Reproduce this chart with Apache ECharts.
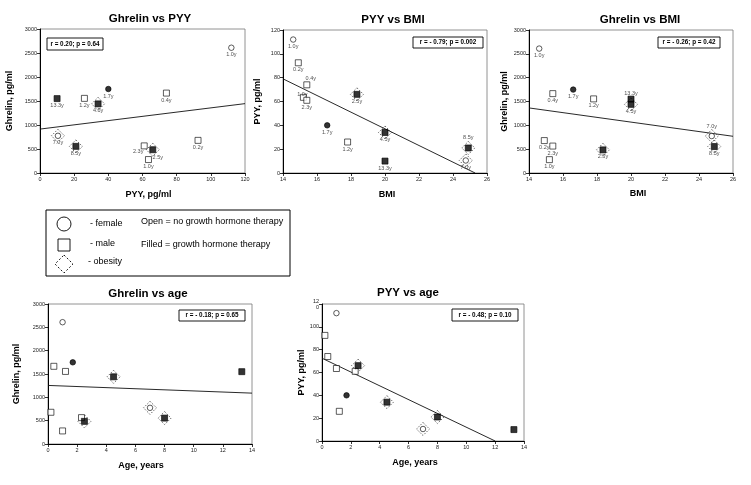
<!DOCTYPE html>
<html><head><meta charset="utf-8">
<script src="https://cdn.jsdelivr.net/npm/echarts@6/dist/echarts.min.js"></script>
<style>html,body{margin:0;padding:0;background:#fff}#c{width:751px;height:485px}</style>
</head><body><div id="c"></div>
<script>
// ---- data (one entry per subject) ----
const ageLabels = ['1.0y','0.2y','0.4y','1.0y','2.3y','1.7y','1.2y','2.5y','4.5y','13.3y','8.5y','7.0y'];
const ageYears  = [1.0, 0.2, 0.4, 1.0, 2.3, 1.7, 1.2, 2.5, 4.5, 13.3, 8.0, 7.0];
const sex       = ['F','M','M','M','M','F','M','M','M','M','M','F'];
const ghTherapy = [0,0,0,0,0,1,0,1,1,1,1,0];
const obese     = [0,0,0,0,0,0,0,1,1,0,1,1];
const pyy       = [112, 92.5, 74, 63.5, 61, 40, 26, 66, 34, 10, 21, 10.5];
const ghrelin   = [2610, 680, 1665, 280, 565, 1750, 1555, 485, 1440, 1550, 555, 775];
const bmi       = [14.6, 14.9, 15.4, 15.2, 15.4, 16.6, 17.8, 18.35, 20.0, 20.0, 24.9, 24.75];

// regression lines (end points)
const fitGhrelinPyy = [[0, 915], [120, 1445]];
const fitPyyBmi     = [[14, 79], [25.3, 0]];
const fitGhrelinBmi = [[14, 1365], [26, 770]];
const fitGhrelinAge = [[0, 1255], [14, 1090]];
const fitPyyAge     = [[0, 72.5], [12, 0]];

const panelTitles = ['Ghrelin vs PYY', 'PYY vs BMI', 'Ghrelin vs BMI', 'Ghrelin vs age', 'PYY vs age'];
const statTexts   = ['r = 0.20; p = 0.64', 'r = - 0.79; p = 0.002', 'r = - 0.26; p = 0.42', 'r = - 0.18; p = 0.65', 'r = - 0.48; p = 0.10'];
const xNames = ['PYY, pg/ml', 'BMI', 'BMI', 'Age, years', 'Age, years'];
const yNames = ['Ghrelin, pg/ml', 'PYY, pg/ml', 'Ghrelin, pg/ml', 'Ghrelin, pg/ml', 'PYY, pg/ml'];
const legendShapes = ['- female', '- male', '- obesity'];
const legendFill = ['Open = no growth hormone therapy', 'Filled = growth hormone therapy'];

// ---- layout ----
const FONT = '"Liberation Sans", Arial, sans-serif';
const panels = [
  {x: pyy, y: ghrelin, fit: fitGhrelinPyy, labels: true, grid: {left: 40, top: 29, width: 205, height: 144},
   xr: [0, 120, 20], yr: [0, 3000, 500], xGap: 17.5, yGap: 25.5, xPad: 12,
   place: {4: {offset: [-6, -1]}, 7: {offset: [5, 1]}}},
  {x: bmi, y: pyy, fit: fitPyyBmi, labels: true, grid: {left: 283, top: 30, width: 204, height: 143},
   xr: [14, 26, 2], yr: [0, 120, 20], xGap: 17.5, yGap: 20.5, xPad: 4,
   place: {2: {position: 'top', distance: 0, offset: [4, 0]}, 3: {position: 'top', distance: 0, offset: [-1, 3]}, 10: {position: 'top', distance: 4}}},
  {x: bmi, y: ghrelin, fit: fitGhrelinBmi, labels: true, grid: {left: 529, top: 30, width: 204, height: 143},
   xr: [14, 26, 2], yr: [0, 3000, 500], xGap: 16, yGap: 20, xPad: 14,
   place: {9: {position: 'top', distance: 0}, 11: {position: 'top', distance: 4}}},
  {x: ageYears, y: ghrelin, fit: fitGhrelinAge, labels: false, grid: {left: 48, top: 304, width: 204, height: 140},
   xr: [0, 14, 2], yr: [0, 3000, 500], xGap: 17.5, yGap: 26.5, xPad: -18},
  {x: ageYears, y: pyy, fit: fitPyyAge, labels: false, grid: {left: 322, top: 304, width: 202, height: 137},
   xr: [0, 14, 2], yr: [0, 120, 20], xGap: 17.5, yGap: 15.5, xPad: -16, wrapTop: true}
];
const statBoxes = [[47, 38, 56, 12], [413, 37, 70, 11], [658, 37, 62, 11], [179, 310, 66, 11], [452, 309, 66, 12]];
const titlePos = [[150, 19], [393, 20], [640, 20], [148, 294], [408, 293]];

function axisBase(r) {
  return {
    min: r[0], max: r[1], interval: r[2], nameLocation: 'middle',
    axisLine: {show: true, onZero: false, lineStyle: {color: '#000', width: 1}},
    axisTick: {show: true, length: 3, inside: false, lineStyle: {color: '#000', width: 0.8}},
    axisLabel: {fontSize: 5.5, color: '#222', fontFamily: FONT, margin: 3, formatter: v => String(v)},
    splitLine: {show: false},
    nameTextStyle: {fontSize: 9, fontWeight: 'bold', fontFamily: FONT, color: '#000'}
  };
}

const grids = [], xAxes = [], yAxes = [], series = [];
panels.forEach((p, k) => {
  grids.push(Object.assign({show: true, borderColor: '#777', borderWidth: 0.8, backgroundColor: 'transparent'}, p.grid));
  const xa = axisBase(p.xr);
  Object.assign(xa, {type: 'value', gridIndex: k, name: xNames[k], nameGap: p.xGap});
  xa.nameTextStyle = Object.assign({}, xa.nameTextStyle, {padding: p.xPad >= 0 ? [0, 0, 0, p.xPad] : [0, -p.xPad, 0, 0]});
  xAxes.push(xa);
  const ya = axisBase(p.yr);
  Object.assign(ya, {type: 'value', gridIndex: k, name: yNames[k], nameGap: p.yGap});
  if (p.wrapTop) ya.axisLabel = Object.assign({}, ya.axisLabel, {formatter: v => v === 120 ? '12\n0' : String(v), lineHeight: 6});
  yAxes.push(ya);

  series.push({type: 'line', xAxisIndex: k, yAxisIndex: k, data: p.fit, symbol: 'none', silent: true,
    lineStyle: {color: '#111', width: 0.9}, z: 1});

  const idx = p.x.map((_, i) => i);
  series.push({type: 'scatter', xAxisIndex: k, yAxisIndex: k, symbol: 'diamond', symbolSize: 13, z: 2,
    data: idx.filter(i => obese[i]).map(i => [p.x[i], p.y[i]]),
    itemStyle: {color: 'rgba(0,0,0,0)', borderColor: '#111', borderWidth: 0.8, borderType: [1.5, 1.5]}});
  [['F', 0], ['F', 1], ['M', 0], ['M', 1]].forEach(([s, t]) => {
    series.push({type: 'scatter', xAxisIndex: k, yAxisIndex: k, z: 3,
      symbol: s === 'F' ? 'circle' : 'rect', symbolSize: s === 'F' ? 5.5 : 6,
      data: idx.filter(i => sex[i] === s && ghTherapy[i] === t).map(i => [p.x[i], p.y[i]]),
      itemStyle: {color: t ? '#000' : '#fff', borderColor: '#000', borderWidth: 0.8}});
  });
  if (p.labels) {
    series.push({type: 'scatter', xAxisIndex: k, yAxisIndex: k, z: 4, symbolSize: 6, silent: true,
      itemStyle: {color: 'rgba(0,0,0,0)'},
      label: {show: true, position: 'bottom', distance: 1, fontSize: 5.5, fontFamily: FONT, color: '#222',
        formatter: q => q.value[2]},
      data: idx.map(i => {
        const d = {value: [p.x[i], p.y[i], ageLabels[i]]};
        if (p.place && p.place[i]) d.label = p.place[i];
        return d;
      })});
  }
});

const graphics = [];
titlePos.forEach(([x, y], k) => graphics.push({type: 'text', x, y, z: 10,
  style: {text: panelTitles[k], font: 'bold 11.5px ' + FONT, fill: '#000', align: 'center', verticalAlign: 'middle', textAlign: 'center', textVerticalAlign: 'middle'}}));
statBoxes.forEach(([x, y, w, h], k) => {
  graphics.push({type: 'rect', z: 10, shape: {x, y, width: w, height: h}, style: {fill: '#fff', stroke: '#000', lineWidth: 0.9}});
  graphics.push({type: 'text', z: 11, x: x + w / 2, y: y + h / 2,
    style: {text: statTexts[k], font: 'bold 6.3px ' + FONT, fill: '#000', align: 'center', verticalAlign: 'middle', textAlign: 'center', textVerticalAlign: 'middle'}});
});
// key box
graphics.push({type: 'rect', z: 10, shape: {x: 46, y: 210, width: 244, height: 66}, style: {fill: '#fff', stroke: '#000', lineWidth: 1}});
graphics.push({type: 'circle', z: 11, shape: {cx: 64, cy: 224, r: 7}, style: {fill: '#fff', stroke: '#000', lineWidth: 0.9}});
graphics.push({type: 'rect', z: 11, shape: {x: 58, y: 239, width: 12, height: 12}, style: {fill: '#fff', stroke: '#000', lineWidth: 0.9}});
graphics.push({type: 'polygon', z: 11, shape: {points: [[64, 255], [73, 264], [64, 273], [55, 264]]}, style: {fill: 'none', stroke: '#000', lineWidth: 0.9, lineDash: [2, 2]}});
[[90, 224], [90, 244], [88, 262]].forEach(([x, y], k) => graphics.push({type: 'text', z: 11, x, y,
  style: {text: legendShapes[k], font: '9px ' + FONT, fill: '#000', verticalAlign: 'middle', textVerticalAlign: 'middle'}}));
[[141, 222], [141, 245]].forEach(([x, y], k) => graphics.push({type: 'text', z: 11, x, y,
  style: {text: legendFill[k], font: '9px ' + FONT, fill: '#000', verticalAlign: 'middle', textVerticalAlign: 'middle'}}));

const chart = echarts.init(document.getElementById('c'), null, {renderer: 'canvas'});
chart.setOption({
  animation: false, backgroundColor: '#fff',
  grid: grids, xAxis: xAxes, yAxis: yAxes, series, graphic: graphics
});
</script></body></html>
